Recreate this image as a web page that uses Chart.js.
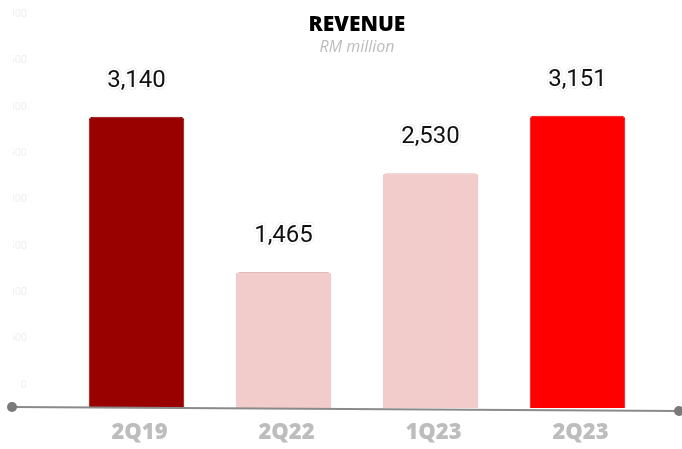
<!DOCTYPE html>
<html>
<head>
<meta charset="utf-8">
<script src="https://cdn.jsdelivr.net/npm/chart.js@4"></script>
<style>
  html, body { margin: 0; padding: 0; background: #fff; }
  #wrap { width: 682px; height: 449px; position: relative; }
</style>
</head>
<body>
<div id="wrap"><canvas id="revenueChart"></canvas></div>
<script>
const quarters = ['2Q19', '2Q22', '1Q23', '2Q23'];
const revenue = [3140, 1465, 2530, 3151];
const barColors = ['#990000', '#f2cbcb', '#f2cbcb', '#ff0000'];
const yTicks = [0, 500, 1000, 1500, 2000, 2500, 3000, 3500, 4000];

// value labels above each bar, plus the header text and the baseline
const decorPlugin = {
  id: 'decor',
  afterDatasetsDraw(chart) {
    const ctx = chart.ctx;
    const meta = chart.getDatasetMeta(0);
    ctx.save();
    ctx.font = '24px Roboto';
    ctx.textAlign = 'center';
    ctx.textBaseline = 'alphabetic';
    meta.data.forEach((bar, i) => {
      const txt = revenue[i].toLocaleString('en-US');
      const ty = bar.y - 30;
      ctx.lineJoin = 'round';
      ctx.lineWidth = 5;
      ctx.strokeStyle = 'rgba(0,0,0,0.12)';
      ctx.strokeText(txt, bar.x, ty);
      ctx.lineWidth = 4;
      ctx.strokeStyle = '#fff';
      ctx.strokeText(txt, bar.x, ty);
      ctx.fillStyle = '#111';
      ctx.fillText(txt, bar.x, ty);
    });

    // baseline with end dots
    const y0 = chart.scales.y.getPixelForValue(0);
    const x1 = 12, x2 = chart.width - 3;
    ctx.strokeStyle = '#8a8a8a';
    ctx.lineWidth = 2;
    ctx.beginPath();
    ctx.moveTo(x1, y0 - 1);
    ctx.lineTo(x2, y0 + 3);
    ctx.stroke();
    ctx.fillStyle = '#7a7a7a';
    ctx.beginPath(); ctx.arc(x1, y0 - 1, 5, 0, Math.PI * 2); ctx.fill();
    ctx.beginPath(); ctx.arc(x2, y0 + 3, 5, 0, Math.PI * 2); ctx.fill();

    // header
    const cx = (chart.chartArea.left + chart.chartArea.right) / 2;
    ctx.textBaseline = 'middle';
    ctx.fillStyle = '#000';
    ctx.font = '800 21px "Open Sans"';
    ctx.fillText('REVENUE', cx, 25);
    ctx.fillStyle = '#bdbdbd';
    ctx.font = 'italic 16px "Open Sans"';
    ctx.fillText('RM million', cx, 47);
    ctx.restore();
  }
};

new Chart(document.getElementById('revenueChart'), {
  type: 'bar',
  data: {
    labels: quarters,
    datasets: [{
      data: revenue,
      backgroundColor: barColors,
      borderColor: ['#8a0000', '#e2b9b9', '#e2b9b9', '#ee0000'],
      borderWidth: 1,
      borderSkipped: 'bottom',
      borderRadius: { topLeft: 4, topRight: 4 },
      barPercentage: 0.65,
      categoryPercentage: 1.0
    }]
  },
  options: {
    responsive: true,
    maintainAspectRatio: false,
    animation: false,
    layout: { padding: { left: 13, right: 31, top: 37, bottom: 0 } },
    plugins: {
      legend: { display: false },
      title: { display: false },
      tooltip: { enabled: false }
    },
    scales: {
      x: {
        grid: { display: false },
        border: { display: false },
        ticks: {
          color: '#bdbdbd',
          font: { family: '"Open Sans"', size: 22, weight: '800' },
          padding: 4,
          labelOffset: 3
        },
        afterFit(scale) { scale.height = 41; }
      },
      y: {
        min: 0,
        max: 4000,
        afterBuildTicks(scale) { scale.ticks = yTicks.map(v => ({ value: v })); },
        grid: { display: false },
        border: { display: false },
        ticks: {
          color: 'rgba(0,0,0,0.07)',
          font: { family: 'Roboto', size: 11 },
          labelOffset: -23,
          padding: 28
        },
        afterFit(scale) { scale.width = 50; }
      }
    }
  },
  plugins: [decorPlugin]
});
</script>
</body>
</html>
